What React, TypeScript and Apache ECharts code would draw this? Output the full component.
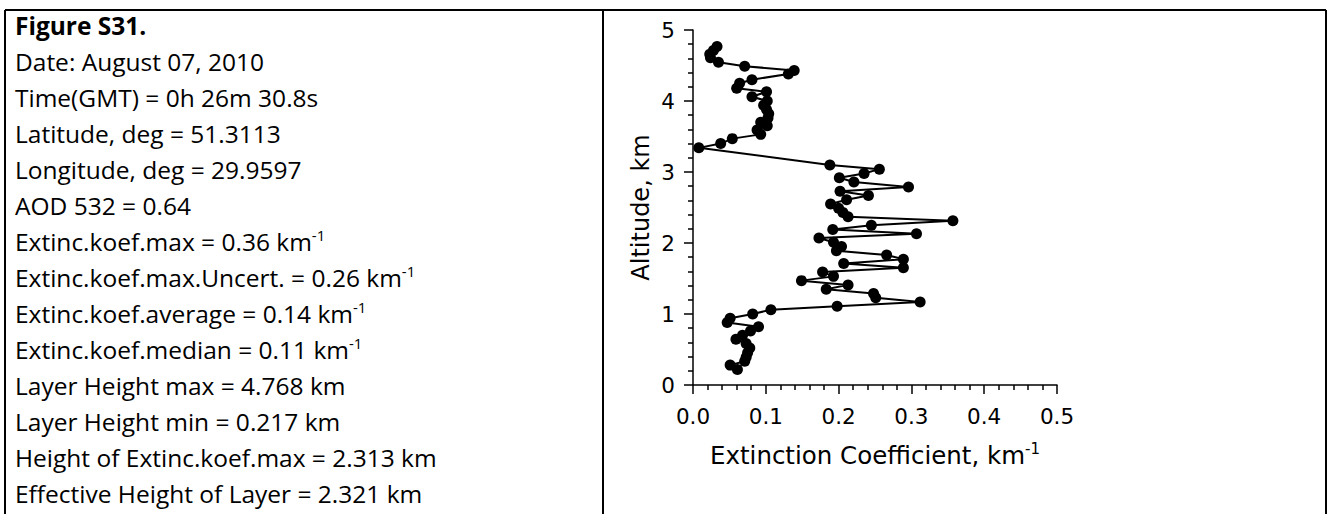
import React, { useEffect, useRef } from "react";
import * as echarts from "echarts";

const altitude = [4.768, 4.71, 4.66, 4.61, 4.545, 4.49, 4.43, 4.38, 4.30, 4.25, 4.18, 4.13, 4.06, 4.00, 3.94, 3.88, 3.82, 3.76, 3.70, 3.65, 3.59, 3.53, 3.47, 3.40, 3.34, 3.10, 3.04, 2.98, 2.92, 2.86, 2.79, 2.73, 2.67, 2.61, 2.55, 2.49, 2.43, 2.37, 2.313, 2.25, 2.19, 2.13, 2.07, 2.01, 1.95, 1.89, 1.83, 1.77, 1.71, 1.65, 1.59, 1.53, 1.47, 1.41, 1.35, 1.29, 1.23, 1.17, 1.11, 1.06, 1.00, 0.94, 0.88, 0.82, 0.76, 0.70, 0.645, 0.585, 0.52, 0.455, 0.39, 0.335, 0.28, 0.217];
const extinction = [0.033, 0.028, 0.023, 0.024, 0.035, 0.071, 0.139, 0.131, 0.081, 0.064, 0.060, 0.101, 0.081, 0.102, 0.097, 0.101, 0.104, 0.103, 0.093, 0.102, 0.088, 0.093, 0.054, 0.038, 0.008, 0.188, 0.256, 0.235, 0.201, 0.221, 0.296, 0.202, 0.241, 0.211, 0.189, 0.200, 0.206, 0.213, 0.357, 0.245, 0.192, 0.307, 0.173, 0.193, 0.204, 0.197, 0.266, 0.289, 0.207, 0.289, 0.178, 0.193, 0.149, 0.213, 0.183, 0.248, 0.251, 0.312, 0.198, 0.107, 0.082, 0.051, 0.047, 0.090, 0.079, 0.068, 0.059, 0.073, 0.078, 0.075, 0.073, 0.071, 0.051, 0.061];

const infoTitle = "Figure S31.";
const infoLines = [
  "Date: August 07, 2010",
  "Time(GMT) = 0h 26m 30.8s",
  "Latitude, deg = 51.3113",
  "Longitude, deg = 29.9597",
  "AOD 532 = 0.64",
  "Extinc.koef.max = 0.36 km{sup|-1}",
  "Extinc.koef.max.Uncert. = 0.26 km{sup|-1}",
  "Extinc.koef.average = 0.14 km{sup|-1}",
  "Extinc.koef.median = 0.11 km{sup|-1}",
  "Layer Height max = 4.768 km",
  "Layer Height min = 0.217 km",
  "Height of Extinc.koef.max = 2.313 km",
  "Effective Height of Layer = 2.321 km",
];
const xAxisName = "Extinction Coefficient, km{sup|-1}";
const yAxisName = "Altitude, km";

const W = 1328;
const H = 514;

export default function App() {
  const ref = useRef<HTMLDivElement>(null);
  useEffect(() => {
    if (!ref.current) return;
    const chart = echarts.init(ref.current, null, { renderer: "svg" });
    const textFont = "Open Sans";
    const axisFont = "DejaVu Sans";
    const lineStart = 25;
    const lineStep = 36;
    const graphics: any[] = [
      { type: "line", shape: { x1: 5, y1: 10, x2: 1326, y2: 10 }, style: { stroke: "#000", lineWidth: 2 } },
      { type: "line", shape: { x1: 5, y1: 10, x2: 5, y2: H }, style: { stroke: "#000", lineWidth: 2 } },
      { type: "line", shape: { x1: 603, y1: 10, x2: 603, y2: H }, style: { stroke: "#000", lineWidth: 2 } },
      { type: "line", shape: { x1: 1326, y1: 10, x2: 1326, y2: H }, style: { stroke: "#000", lineWidth: 2 } },
      {
        type: "text",
        x: 15,
        y: lineStart,
        style: { text: infoTitle, fontFamily: textFont, fontWeight: "bold", fontSize: 24.5, fill: "#000", verticalAlign: "middle" },
      },
    ];
    infoLines.forEach((t, i) => {
      graphics.push({
        type: "text",
        x: 15,
        y: lineStart + lineStep * (i + 1),
        style: {
          text: t,
          fontFamily: textFont,
          fontSize: 24.5,
          fill: "#000",
          verticalAlign: "middle",
          rich: {
            sup: { fontSize: 15, fontFamily: textFont, verticalAlign: "top", padding: [0, 0, 13, 0] },
          },
        },
      });
    });
    const data = extinction.map((v, i) => [v, altitude[i]]);
    chart.setOption({
      animation: false,
      backgroundColor: "#fff",
      grid: { left: 693, right: W - 1057, top: 30, bottom: H - 385, containLabel: false },
      xAxis: {
        type: "value",
        min: 0,
        max: 0.5,
        interval: 0.1,
        name: xAxisName,
        nameLocation: "middle",
        nameGap: 56,
        nameTextStyle: {
          fontFamily: axisFont,
          fontSize: 24.5,
          color: "#000",
          rich: { sup: { fontSize: 15, fontFamily: axisFont, color: "#000", padding: [0, 0, 14, 0] } },
        },
        axisLine: { show: true, lineStyle: { color: "#000", width: 1.5 } },
        axisTick: { show: true, inside: false, length: 9, lineStyle: { color: "#000", width: 1.5 } },
        minorTick: { show: true, splitNumber: 5, length: 5, lineStyle: { color: "#000", width: 1.5 } },
        axisLabel: {
          color: "#000",
          fontFamily: axisFont,
          fontSize: 21.5,
          margin: 20,
          formatter: (v: number) => v.toFixed(1),
        },
        splitLine: { show: false },
      },
      yAxis: {
        type: "value",
        min: 0,
        max: 5,
        interval: 1,
        name: yAxisName,
        nameLocation: "middle",
        nameGap: 40,
        nameTextStyle: { fontFamily: axisFont, fontSize: 24, color: "#000" },
        axisLine: { show: true, lineStyle: { color: "#000", width: 1.5 } },
        axisTick: { show: true, inside: false, length: 9, lineStyle: { color: "#000", width: 1.5 } },
        minorTick: { show: true, splitNumber: 5, length: 5, lineStyle: { color: "#000", width: 1.5 } },
        axisLabel: { color: "#000", fontFamily: axisFont, fontSize: 21.5, margin: 18 },
        splitLine: { show: false },
      },
      series: [
        {
          type: "line",
          data,
          symbol: "circle",
          symbolSize: 11,
          showSymbol: true,
          lineStyle: { color: "#000", width: 2 },
          itemStyle: { color: "#000" },
          z: 3,
        },
      ],
      graphic: graphics,
    });
    return () => chart.dispose();
  }, []);
  return (
    <div style={{ position: "absolute", left: 0, top: 0, width: W, height: H, background: "#fff" }}>
      <div ref={ref} style={{ width: W, height: H }} />
    </div>
  );
}
